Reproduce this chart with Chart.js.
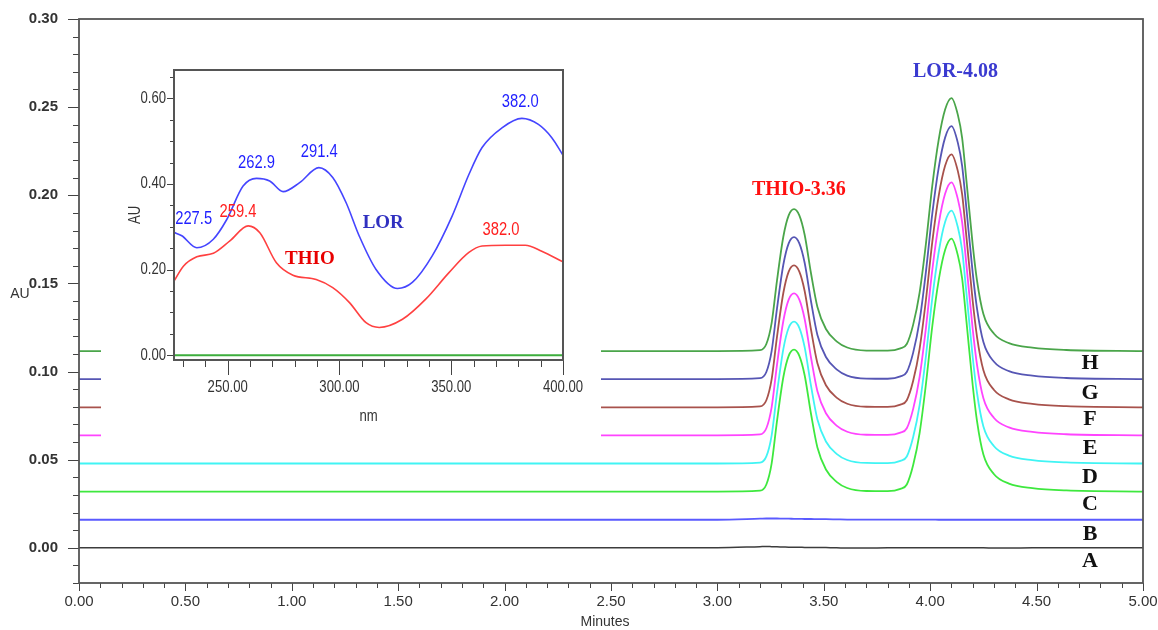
<!DOCTYPE html>
<html>
<head>
<meta charset="utf-8">
<script src="https://cdn.jsdelivr.net/npm/chart.js@4.4.1/dist/chart.umd.min.js"></script>
<style>
  body { margin: 0; background: #fff; }
  #wrap { position: relative; width: 1158px; height: 630px; }
  #main { position: absolute; left: 0; top: 0; }
  #insetBox { position: absolute; left: 101px; top: 50px; width: 500px; height: 400px; background: #fff; }
</style>
</head>
<body>
<div id="wrap">
  <canvas id="main" width="1158" height="630"></canvas>
  <div id="insetBox"><canvas id="inset" width="500" height="400"></canvas></div>
</div>
<script>
// chromatogram: retention time (min) and AU for each injection A..H
const timeMin = [0, 3.00, 3.20, 3.23, 3.255, 3.28, 3.31, 3.335, 3.36, 3.385, 3.41, 3.44, 3.47, 3.51, 3.56, 3.61, 3.70, 3.80,
  3.86, 3.89, 3.92, 3.95, 3.98, 4.01, 4.04, 4.07, 4.10, 4.13, 4.15, 4.17, 4.20, 4.22, 4.25, 4.30, 4.37, 4.48, 4.64, 5.00];

const traceA = [0, 0, 0.0006, 0.0007, 0.0006, 0.0005, 0.0004, 0.0003, 0.0003, 0.0003, 0.0002, 0.0002, 0.0002, 0.0001, 0, -0.0002, -0.0002, 0,
  0, 0, 0, 0, 0, 0, 0, 0, 0, 0, 0, 0, 0, 0, 0, -0.0002, -0.0002, 0, 0, 0];
const traceB = [0.0159, 0.0159, 0.0165, 0.0166, 0.0166, 0.0166, 0.0165, 0.0165, 0.0164, 0.0164, 0.0163, 0.0163, 0.0162, 0.0162, 0.0161, 0.0160, 0.0160, 0.0160,
  0.0160, 0.0160, 0.0160, 0.0160, 0.0160, 0.0160, 0.0159, 0.0159, 0.0159, 0.0159, 0.0159, 0.0159, 0.0159, 0.0159, 0.0159, 0.0159, 0.0159, 0.0159, 0.0159, 0.0159];
const traceC = [0.0319, 0.0319, 0.0324, 0.0359, 0.0479, 0.0719, 0.0969, 0.1089, 0.1124, 0.1089, 0.0979, 0.0759, 0.0569, 0.0444, 0.0374, 0.0339, 0.0322, 0.0321,
  0.0334, 0.0359, 0.0469, 0.0649, 0.0929, 0.1259, 0.1519, 0.1689, 0.1754, 0.1659, 0.1529, 0.1289, 0.0919, 0.0719, 0.0529, 0.0417, 0.0364, 0.0338, 0.0325, 0.0319];
const traceD = [0.0478, 0.0478, 0.0483, 0.0518, 0.0638, 0.0878, 0.1128, 0.1248, 0.1283, 0.1248, 0.1138, 0.0918, 0.0728, 0.0603, 0.0533, 0.0498, 0.0481, 0.0480,
  0.0493, 0.0518, 0.0628, 0.0808, 0.1088, 0.1418, 0.1678, 0.1848, 0.1913, 0.1818, 0.1688, 0.1448, 0.1078, 0.0878, 0.0688, 0.0576, 0.0523, 0.0497, 0.0484, 0.0478];
const traceE = [0.0638, 0.0638, 0.0643, 0.0678, 0.0798, 0.1038, 0.1288, 0.1408, 0.1443, 0.1408, 0.1298, 0.1078, 0.0888, 0.0763, 0.0693, 0.0658, 0.0641, 0.0640,
  0.0653, 0.0678, 0.0788, 0.0968, 0.1248, 0.1578, 0.1838, 0.2008, 0.2073, 0.1978, 0.1848, 0.1608, 0.1238, 0.1038, 0.0848, 0.0736, 0.0683, 0.0657, 0.0644, 0.0638];
const traceF = [0.0797, 0.0797, 0.0802, 0.0837, 0.0957, 0.1197, 0.1447, 0.1567, 0.1602, 0.1567, 0.1457, 0.1237, 0.1047, 0.0922, 0.0852, 0.0817, 0.0800, 0.0799,
  0.0812, 0.0837, 0.0947, 0.1127, 0.1407, 0.1737, 0.1997, 0.2167, 0.2232, 0.2137, 0.2007, 0.1767, 0.1397, 0.1197, 0.1007, 0.0895, 0.0842, 0.0816, 0.0803, 0.0797];
const traceG = [0.0957, 0.0957, 0.0962, 0.0997, 0.1117, 0.1357, 0.1607, 0.1727, 0.1762, 0.1727, 0.1617, 0.1397, 0.1207, 0.1082, 0.1012, 0.0977, 0.0960, 0.0959,
  0.0972, 0.0997, 0.1107, 0.1287, 0.1567, 0.1897, 0.2157, 0.2327, 0.2392, 0.2297, 0.2167, 0.1927, 0.1557, 0.1357, 0.1167, 0.1055, 0.1002, 0.0976, 0.0963, 0.0957];
const traceH = [0.1116, 0.1116, 0.1121, 0.1156, 0.1276, 0.1516, 0.1766, 0.1886, 0.1921, 0.1886, 0.1776, 0.1556, 0.1366, 0.1241, 0.1171, 0.1136, 0.1119, 0.1118,
  0.1131, 0.1156, 0.1266, 0.1446, 0.1726, 0.2056, 0.2316, 0.2486, 0.2551, 0.2456, 0.2326, 0.2086, 0.1716, 0.1516, 0.1326, 0.1214, 0.1161, 0.1135, 0.1122, 0.1116];

const traceNames = ["A", "B", "C", "D", "E", "F", "G", "H"];
const peakNames = ["THIO-3.36", "LOR-4.08"];

// inset: UV spectra (nm, AU)
const lorNm = [226, 229.5, 236.2, 243.6, 249.6, 256.9, 262.9, 268.8, 274.8, 282.2, 290.8, 297, 303, 308.9, 316.3, 326, 332.6,
  341.5, 350.4, 357.9, 363.8, 372.7, 381.6, 389, 395, 400];
const lorAU = [0.287, 0.279, 0.251, 0.271, 0.317, 0.395, 0.413, 0.407, 0.382, 0.403, 0.438, 0.415, 0.356, 0.278, 0.201, 0.156, 0.170,
  0.232, 0.325, 0.422, 0.485, 0.531, 0.553, 0.539, 0.508, 0.467];
const thioNm = [226, 230.2, 236.2, 243.6, 251, 259.2, 264.4, 271.8, 279.2, 289.6, 297, 304.5, 311.9, 317.8, 328.2, 338.6, 349,
  357.9, 363.8, 374.2, 383.1, 390.5, 400];
const thioAU = [0.173, 0.208, 0.230, 0.238, 0.267, 0.302, 0.286, 0.216, 0.187, 0.177, 0.158, 0.123, 0.076, 0.065, 0.084, 0.131, 0.193,
  0.240, 0.255, 0.257, 0.257, 0.243, 0.218];
const blankNm = [226, 400];
const blankAU = [0, 0];
const maxLabels = ["227.5", "259.4", "262.9", "291.4", "382.0", "382.0"];

const pts = (xs, ys) => xs.map((x, i) => ({ x: x, y: ys[i] }));
const onStep = (v, s) => Math.abs(v / s - Math.round(v / s)) < 1e-6;
const steps = (min, max, s) => {
  const out = [];
  for (let i = Math.ceil(min / s - 1e-6); i <= Math.floor(max / s + 1e-6); i++) out.push(i * s);
  return out;
};

const sans = '"Liberation Sans", Arial, sans-serif';
const serif = '"Liberation Serif", "Times New Roman", serif';

// text squeezed horizontally (the original uses a narrow face)
function say(ctx, t, x, y, sx, rot) {
  ctx.save();
  ctx.translate(x, y);
  if (rot) ctx.rotate(rot);
  ctx.scale(sx || 1, 1);
  ctx.fillText(t, 0, 0);
  ctx.restore();
}

// tick marks, tick labels, axis titles and frame box
function axisPlugin(cfg) {
  return {
    id: "axisDraw",
    afterDraw(chart) {
      const { ctx, chartArea: a, scales: { x, y } } = chart;
      ctx.save();
      ctx.strokeStyle = cfg.color;
      ctx.lineWidth = 1;
      ctx.beginPath();
      steps(x.min, x.max, cfg.x.minor).forEach(v => {
        const len = onStep(v, cfg.x.major) ? cfg.x.majorLen : cfg.x.minorLen;
        const px = Math.round(x.getPixelForValue(v)) + 0.5;
        ctx.moveTo(px, a.bottom);
        ctx.lineTo(px, a.bottom + len);
      });
      steps(y.min, y.max, cfg.y.minor).forEach(v => {
        const len = onStep(v, cfg.y.major) ? cfg.y.majorLen : cfg.y.minorLen;
        const py = Math.round(y.getPixelForValue(v)) + 0.5;
        ctx.moveTo(a.left, py);
        ctx.lineTo(a.left - len, py);
      });
      ctx.stroke();

      ctx.fillStyle = cfg.textColor;
      ctx.textBaseline = "middle";
      ctx.textAlign = "center";
      ctx.font = cfg.x.font;
      steps(x.min, x.max, cfg.x.major).forEach(v => {
        say(ctx, v.toFixed(2), x.getPixelForValue(v), a.bottom + cfg.x.labelOff, cfg.sx);
      });
      ctx.textAlign = "right";
      ctx.font = cfg.y.font;
      steps(y.min, y.max, cfg.y.major).forEach(v => {
        say(ctx, (Math.abs(v) < 1e-9 ? 0 : v).toFixed(2), a.left - cfg.y.labelOff, y.getPixelForValue(v), cfg.sx);
      });
      ctx.textAlign = "center";
      ctx.font = cfg.titleFont;
      say(ctx, cfg.x.title, cfg.x.titleX, cfg.x.titleY, cfg.sx);
      say(ctx, cfg.y.title, cfg.y.titleX, cfg.y.titleY, cfg.sx, cfg.y.titleRot);

      ctx.strokeStyle = cfg.frame;
      ctx.lineWidth = cfg.frameWidth;
      ctx.strokeRect(a.left, a.top, a.right - a.left, a.bottom - a.top);
      ctx.restore();
    }
  };
}

function textPlugin(items) {
  return {
    id: "texts",
    afterDatasetsDraw(chart) {
      const { ctx, scales: { x, y } } = chart;
      ctx.save();
      ctx.textAlign = "center";
      ctx.textBaseline = "middle";
      items.forEach(it => {
        ctx.font = it.font;
        ctx.fillStyle = it.color;
        say(ctx, it.text, x.getPixelForValue(it.x), y.getPixelForValue(it.y), it.sx);
      });
      ctx.restore();
    }
  };
}

const hiddenAxis = (min, max, fit) => ({
  type: "linear", min: min, max: max,
  afterFit: fit,
  border: { display: false },
  grid: { display: false },
  ticks: { display: false }
});

// ---------- main chromatogram ----------
const traceColors = ["#3c3c3c", "#5a5aff", "#3ee83e", "#40f4f4", "#ff44ff", "#a8524c", "#5656b4", "#4aa54a"];
const traceData = [traceA, traceB, traceC, traceD, traceE, traceF, traceG, traceH];

const mainSets = traceData.map((vals, i) => ({
  label: traceNames[i],
  data: pts(timeMin, vals),
  borderColor: traceColors[i],
  borderWidth: i === 0 ? 1.5 : 1.8,
  pointRadius: 0,
  cubicInterpolationMode: "monotone",
  fill: false
}));

const letterY = [-0.0079, 0.0074, 0.0244, 0.0402, 0.0567, 0.0726, 0.0879, 0.1049];
const mainTexts = [
  { text: peakNames[0], x: 3.383, y: 0.203, color: "#ff1010", font: "bold 20px " + serif },
  { text: peakNames[1], x: 4.119, y: 0.2698, color: "#3a3ad0", font: "bold 20px " + serif }
];
traceNames.forEach((n, i) => mainTexts.push({ text: n, x: 4.751, y: letterY[i], color: "#111", font: "bold 22px " + serif }));

new Chart(document.getElementById("main"), {
  type: "line",
  data: { datasets: mainSets },
  options: {
    responsive: false,
    animation: false,
    layout: { padding: { top: 19, right: 15, left: 0, bottom: 0 } },
    plugins: { legend: { display: false }, tooltip: { enabled: false } },
    scales: {
      x: hiddenAxis(0, 5, s => { s.height = 47; }),
      y: hiddenAxis(-0.02, 0.30, s => { s.width = 79; })
    }
  },
  plugins: [
    axisPlugin({
      color: "#444", textColor: "#333", sx: 1, frame: "#555", frameWidth: 1.8,
      titleFont: "14px " + sans,
      x: { minor: 0.1, major: 0.5, minorLen: 5, majorLen: 8, labelOff: 19, font: "15px " + sans,
           title: "Minutes", titleX: 605, titleY: 622 },
      y: { minor: 0.01, major: 0.05, minorLen: 6, majorLen: 11, labelOff: 21, font: "bold 15px " + sans,
           title: "AU", titleX: 20, titleY: 294, titleRot: 0 }
    }),
    textPlugin(mainTexts)
  ]
});

// ---------- inset spectra ----------
const narrowNum = "18px " + sans;
const insetTexts = [
  { text: maxLabels[0], x: 234.8, y: 0.318, color: "#1f1fff", font: narrowNum, sx: 0.82 },
  { text: maxLabels[1], x: 254.6, y: 0.334, color: "#ff2020", font: narrowNum, sx: 0.82 },
  { text: maxLabels[2], x: 262.9, y: 0.448, color: "#1f1fff", font: narrowNum, sx: 0.82 },
  { text: maxLabels[3], x: 291.0, y: 0.475, color: "#1f1fff", font: narrowNum, sx: 0.82 },
  { text: maxLabels[4], x: 380.9, y: 0.591, color: "#1f1fff", font: narrowNum, sx: 0.82 },
  { text: maxLabels[5], x: 372.3, y: 0.292, color: "#ff2020", font: narrowNum, sx: 0.82 },
  { text: "LOR", x: 319.6, y: 0.308, color: "#3030c0", font: "bold 19px " + serif },
  { text: "THIO", x: 286.8, y: 0.224, color: "#e80000", font: "bold 19px " + serif }
];

new Chart(document.getElementById("inset"), {
  type: "line",
  data: {
    datasets: [
      { label: "blank", data: pts(blankNm, blankAU), borderColor: "#3cae3c", borderWidth: 2, pointRadius: 0 },
      { label: "THIO", data: pts(thioNm, thioAU), borderColor: "#ff4040", borderWidth: 1.6, pointRadius: 0, cubicInterpolationMode: "monotone" },
      { label: "LOR", data: pts(lorNm, lorAU), borderColor: "#4545ff", borderWidth: 1.6, pointRadius: 0, cubicInterpolationMode: "monotone" }
    ]
  },
  options: {
    responsive: false,
    animation: false,
    layout: { padding: { top: 20, right: 38, left: 0, bottom: 0 } },
    plugins: { legend: { display: false }, tooltip: { enabled: false } },
    scales: {
      x: hiddenAxis(226, 400, s => { s.height = 90; }),
      y: hiddenAxis(-0.011, 0.666, s => { s.width = 73; })
    }
  },
  plugins: [
    axisPlugin({
      color: "#444", textColor: "#333", sx: 0.82, frame: "#555", frameWidth: 2,
      titleFont: "16px " + sans,
      x: { minor: 10, major: 50, minorLen: 7, majorLen: 15, labelOff: 28, font: "16px " + sans,
           title: "nm", titleX: 267.5, titleY: 367 },
      y: { minor: 0.05, major: 0.2, minorLen: 4, majorLen: 7, labelOff: 8, font: "16px " + sans,
           title: "AU", titleX: 35, titleY: 165, titleRot: -Math.PI / 2 }
    }),
    textPlugin(insetTexts)
  ]
});
</script>
</body>
</html>
